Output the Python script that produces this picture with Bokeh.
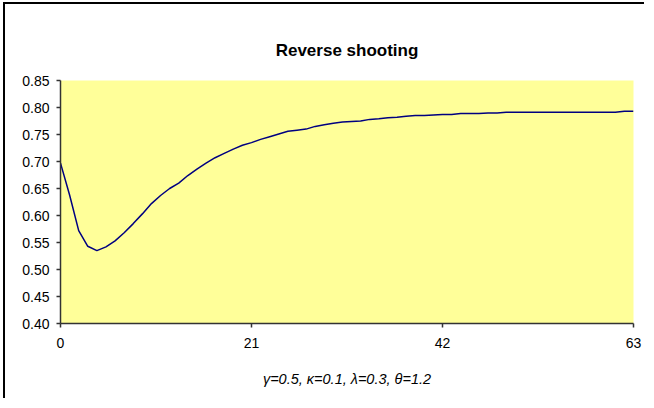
from bokeh.plotting import figure
from bokeh.models import Range1d, FixedTicker, Title, NumeralTickFormatter
from bokeh.embed import file_html
from bokeh.resources import INLINE

# ---- data ----
periods = list(range(64))
values = [
    0.697, 0.638, 0.572, 0.543, 0.535, 0.542, 0.553, 0.568, 0.585, 0.603,
    0.622, 0.637, 0.650, 0.660, 0.674, 0.686, 0.697, 0.707, 0.715, 0.723,
    0.730, 0.735, 0.741, 0.746, 0.751, 0.756, 0.758, 0.760, 0.765, 0.768,
    0.771, 0.773, 0.774, 0.775, 0.778, 0.779, 0.781, 0.782, 0.784, 0.785,
    0.785, 0.786, 0.787, 0.787, 0.789, 0.789, 0.789, 0.790, 0.790, 0.791,
    0.791, 0.791, 0.791, 0.791, 0.791, 0.791, 0.791, 0.791, 0.791, 0.791,
    0.791, 0.791, 0.793, 0.793,
]
x_ticks = [0, 21, 42, 63]
y_ticks = [0.40, 0.45, 0.50, 0.55, 0.60, 0.65, 0.70, 0.75, 0.80, 0.85]
title_text = "Reverse shooting"
x_label = "γ=0.5, κ=0.1, λ=0.3, θ=1.2"

FONT = "Liberation Sans"

p = figure(width=641, height=396, output_backend="svg", toolbar_location=None,
           x_range=Range1d(0, 63), y_range=Range1d(0.40, 0.85),
           min_border_left=55, min_border_right=13, min_border_top=76, min_border_bottom=77)

p.background_fill_color = "#FFFF99"
p.border_fill_color = "white"
p.outline_line_color = None
p.grid.visible = False
# chart-area border: only its left and top edges are visible in the reference
# (the chart area runs on past the right and bottom edges of the picture)
p.styles = {"border-left": "2px solid black", "border-top": "2px solid black",
            "margin-left": "3px", "margin-top": "2px",
            "margin-right": "-8px", "margin-bottom": "-8px"}

t = Title(text=title_text, align="center", text_font=FONT, text_font_size="17px",
          text_font_style="bold", text_color="black", standoff=41)
p.add_layout(t, "above")

p.line(periods, values, line_color="#000080", line_width=1.5)

for ax in (p.xaxis[0], p.yaxis[0]):
    ax.axis_line_color = "#333333"
    ax.axis_line_width = 1.5
    ax.major_tick_line_color = "#333333"
    ax.major_tick_line_width = 1.5
    ax.major_tick_in = 0
    ax.major_tick_out = 4
    ax.minor_tick_line_color = None
    ax.major_label_text_font = FONT
    ax.major_label_text_font_size = "14px"
    ax.major_label_text_color = "black"

p.xaxis.ticker = FixedTicker(ticks=x_ticks)
p.yaxis.ticker = FixedTicker(ticks=y_ticks)
p.yaxis.formatter = NumeralTickFormatter(format="0.00")
p.xaxis.major_label_standoff = 10
p.yaxis.major_label_standoff = 7

p.xaxis.axis_label = x_label
p.xaxis.axis_label_text_font = FONT
p.xaxis.axis_label_text_font_size = "14.5px"
p.xaxis.axis_label_text_font_style = "italic"
p.xaxis.axis_label_text_color = "black"
p.xaxis.axis_label_standoff = 20

open("out.html", "w").write(file_html(p, INLINE))
